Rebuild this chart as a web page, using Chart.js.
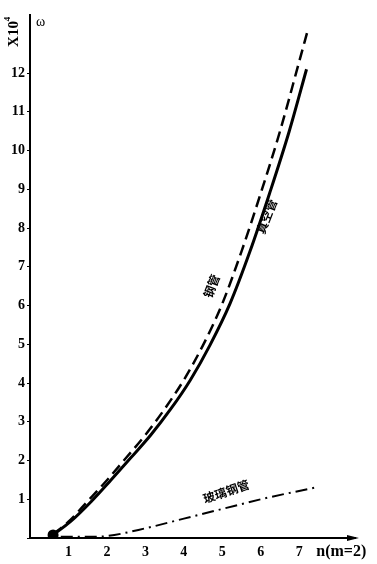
<!DOCTYPE html>
<html>
<head>
<meta charset="utf-8">
<script src="https://cdn.jsdelivr.net/npm/chart.js@4/dist/chart.umd.min.js"></script>
<style>
  html, body { margin: 0; padding: 0; background: #fff; }
  #wrap { width: 377px; height: 564px; position: relative; }
</style>
</head>
<body>
<div id="wrap"><canvas id="omegaChart"></canvas></div>
<script>
// values
const nSteel = [0.6, 1.0, 1.5, 2.0, 2.5, 3.0, 3.5, 4.0, 4.5, 5.0, 5.5, 6.0, 6.5, 7.0, 7.22];
const omegaSteel = [0.1, 0.42, 0.95, 1.49, 2.07, 2.66, 3.33, 4.08, 4.98, 6.05, 7.4, 8.9, 10.5, 12.3, 13.1];
const nVacuum = [0.6, 1.05, 1.6, 2.1, 2.62, 3.14, 3.66, 4.17, 4.68, 5.2, 5.72, 6.23, 6.74, 7.19];
const omegaVacuum = [0.08, 0.42, 0.95, 1.49, 2.07, 2.66, 3.33, 4.08, 4.98, 6.05, 7.4, 8.9, 10.5, 12.1];
const nGlass = [0.8, 1.5, 2.0, 3.0, 4.0, 5.0, 6.0, 7.4];
const omegaGlass = [0.03, 0.03, 0.05, 0.25, 0.5, 0.75, 1.0, 1.3];
const xTicks = [1, 2, 3, 4, 5, 6, 7];
const yTicks = [1, 2, 3, 4, 5, 6, 7, 8, 9, 10, 11, 12];

const toPts = (xs, ys) => xs.map((x, i) => ({ x: x, y: ys[i] }));
const tickFont = { family: "Liberation Serif", size: 14, weight: "bold" };

// axis arrow + curve labels
const extras = {
  id: "extras",
  afterDraw(chart) {
    const c = chart.ctx;
    const xs = chart.scales.x, ys = chart.scales.y;
    const x0 = xs.left, y0 = ys.bottom;
    c.save();
    c.fillStyle = "#000";
    // arrow at end of n axis
    c.beginPath();
    c.moveTo(xs.right + 4, y0);
    c.lineTo(xs.right - 8, y0 - 3);
    c.lineTo(xs.right - 8, y0 + 3);
    c.closePath();
    c.fill();

    c.font = "bold 16px 'Liberation Serif'";
    c.textBaseline = "middle";
    c.textAlign = "left";
    c.fillText("n(m=2)", xs.getPixelForValue(7) + 17, y0 + 14);

    c.font = "14px 'Liberation Serif'";
    c.fillText("ω", x0 + 6, 22);

    c.save();
    c.translate(14, 32);
    c.rotate(-Math.PI / 2);
    c.textAlign = "center";
    c.font = "bold 15px 'Liberation Serif'";
    c.fillText("X10", -2, 0);
    c.font = "bold 9px 'Liberation Serif'";
    c.fillText("4", 13, -6);
    c.restore();

    const label = (txt, nx, wy, ang, size) => {
      c.save();
      c.translate(xs.getPixelForValue(nx), ys.getPixelForValue(wy));
      c.rotate(ang);
      c.textAlign = "center";
      c.font = "bold " + size + "px 'Noto Sans CJK SC'";
      c.fillText(txt, 0, 0);
      c.restore();
    };
    label("钢管", 4.72, 6.5, -1.2, 12);
    label("真空管", 6.15, 8.3, -1.2, 12);
    label("玻璃钢管", 5.1, 1.2, -0.33, 12);
    c.restore();
  }
};

new Chart(document.getElementById("omegaChart").getContext("2d"), {
  type: "scatter",
  data: {
    datasets: [
      {
        label: "钢管",
        data: toPts(nSteel, omegaSteel),
        showLine: true,
        borderColor: "#000",
        borderWidth: 2.5,
        borderDash: [11, 6],
        pointRadius: 0,
        cubicInterpolationMode: "monotone",
        fill: false
      },
      {
        label: "真空管",
        data: toPts(nVacuum, omegaVacuum),
        showLine: true,
        borderColor: "#000",
        borderWidth: 3,
        pointRadius: [4, 0, 0, 0, 0, 0, 0, 0, 0, 0, 0, 0, 0, 0],
        pointBackgroundColor: "#000",
        cubicInterpolationMode: "monotone",
        fill: false
      },
      {
        label: "玻璃钢管",
        data: toPts(nGlass, omegaGlass),
        showLine: true,
        borderColor: "#000",
        borderWidth: 2,
        borderDash: [12, 5, 2, 5],
        pointRadius: 0,
        cubicInterpolationMode: "monotone",
        fill: false
      }
    ]
  },
  options: {
    responsive: true,
    maintainAspectRatio: false,
    animation: false,
    layout: { padding: { top: 15, right: 22, left: 0, bottom: 0 } },
    plugins: { legend: { display: false }, tooltip: { enabled: false } },
    scales: {
      x: {
        type: "linear",
        min: 0,
        max: 8.45,
        afterFit: (s) => { s.height = 26; },
        afterBuildTicks: (s) => { s.ticks = [0].concat(xTicks).map(v => ({ value: v })); },
        border: { color: "#000", width: 2 },
        grid: { display: true, drawOnChartArea: false, drawTicks: false },
        ticks: {
          color: "#000",
          font: tickFont,
          padding: 6,
          callback: (v) => (v === 0 ? "" : v)
        }
      },
      y: {
        type: "linear",
        min: 0,
        max: 13.5,
        afterFit: (s) => { s.width = 30; },
        afterBuildTicks: (s) => { s.ticks = [0].concat(yTicks).map(v => ({ value: v })); },
        border: { color: "#000", width: 2 },
        grid: { display: true, drawOnChartArea: false, drawTicks: true, tickLength: 3, color: "#000" },
        ticks: {
          color: "#000",
          font: tickFont,
          padding: 2,
          callback: (v) => (v === 0 ? "" : v)
        }
      }
    }
  },
  plugins: [extras]
});
</script>
</body>
</html>
